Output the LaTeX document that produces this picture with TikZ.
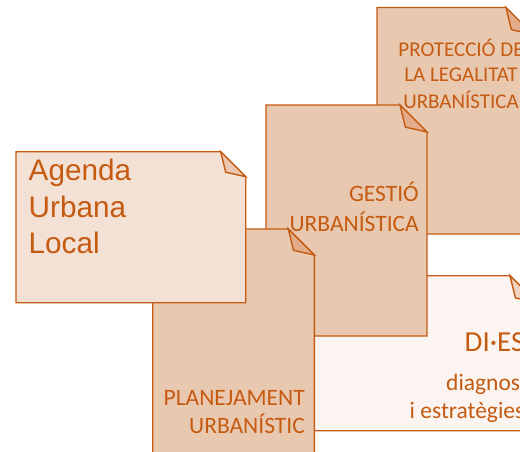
\documentclass[tikz,border=0pt]{standalone}
\usepackage{fontspec}
\newfontfamily\carl{Carlito}
\newfontfamily\arialf{Liberation Sans}
\definecolor{ink}{RGB}{197,90,17}
\definecolor{midfill}{RGB}{233,200,176}
\definecolor{midflap}{RGB}{226,172,138}
\definecolor{lightfill}{RGB}{244,225,213}
\definecolor{lightflap}{RGB}{235,198,176}
\definecolor{palefill}{RGB}{251,244,240}
\definecolor{paleflap}{RGB}{240,212,194}
\newcommand{\foldbox}[7]{%
  % #1 x1, #2 y1, #3 x2, #4 y2, #5 fold, #6 fill, #7 flap
  \draw[boxline,fill=#6] (#1,#2) -- ({#3-#5},#2) -- (#3,{#2+#5}) -- (#3,#4) -- (#1,#4) -- cycle;
  \draw[boxline,fill=#7] ({#3-#5},#2) -- ({#3-0.8*#5},{#2+0.82*#5}) -- (#3,{#2+#5}) -- cycle;
}
\tikzset{
  boxline/.style={draw=ink,line width=1.4pt,line join=miter},
  lbl/.style={inner sep=0pt,text=ink,font=\carl\fontsize{23.5}{29}\selectfont},
  lblsmall/.style={inner sep=0pt,text=ink,font=\carl\fontsize{21}{26}\selectfont},
  lblbig/.style={inner sep=0pt,text=ink,font=\carl\fontsize{29}{34}\selectfont},
  agtext/.style={inner sep=0pt,text=ink,font=\arialf\fontsize{29.7}{36}\selectfont},
}
\begin{document}
\begin{tikzpicture}[x=1pt,y=-1pt]
\useasboundingbox (0,0) rectangle (520,452);
\clip (0,0) rectangle (520,452);
% PROTECCIO (back)
\foldbox{377}{7.5}{533}{234}{27}{midfill}{midflap}
\node[lblsmall,anchor=base] (p1) at (461,56.7) {PROTECCIÓ DE};
\node[lblsmall,anchor=base] (p2) at (461,81.7) {LA LEGALITAT};
\node[lblsmall,anchor=base] (p3) at (461,108.3) {URBANÍSTICA};
% DI-ES box
\foldbox{300}{275.7}{537}{430.7}{27}{palefill}{paleflap}
\node[lblbig,anchor=base west] (d1) at (464.5,351.7) {DI·ES};
\node[lbl,anchor=base west] (d2) at (446,390) {diagnos};
\node[lbl,anchor=base west] (d3) at (409.5,418.3) {i estratègies};
% GESTIO
\foldbox{266}{105}{427}{336}{27}{midfill}{midflap}
\node[lbl,anchor=base east] (g1) at (419,201.7) {GESTIÓ};
\node[lbl,anchor=base east] (g2) at (419,231.7) {URBANÍSTICA};
% PLANEJAMENT
\foldbox{152.7}{229}{314.3}{470}{26}{midfill}{midflap}
\node[lbl,anchor=base east] (q1) at (305,405) {PLANEJAMENT};
\node[lbl,anchor=base east] (q2) at (305,433.3) {URBANÍSTIC};
% Agenda
\foldbox{16}{151.7}{245.7}{302.7}{25}{lightfill}{lightflap}
\node[agtext,anchor=base west] (a1) at (28.5,180.7) {Agenda};
\node[agtext,anchor=base west] (a2) at (28.5,217.3) {Urbana};
\node[agtext,anchor=base west] (a3) at (28.5,253.3) {Local};
\end{tikzpicture}
\end{document}
